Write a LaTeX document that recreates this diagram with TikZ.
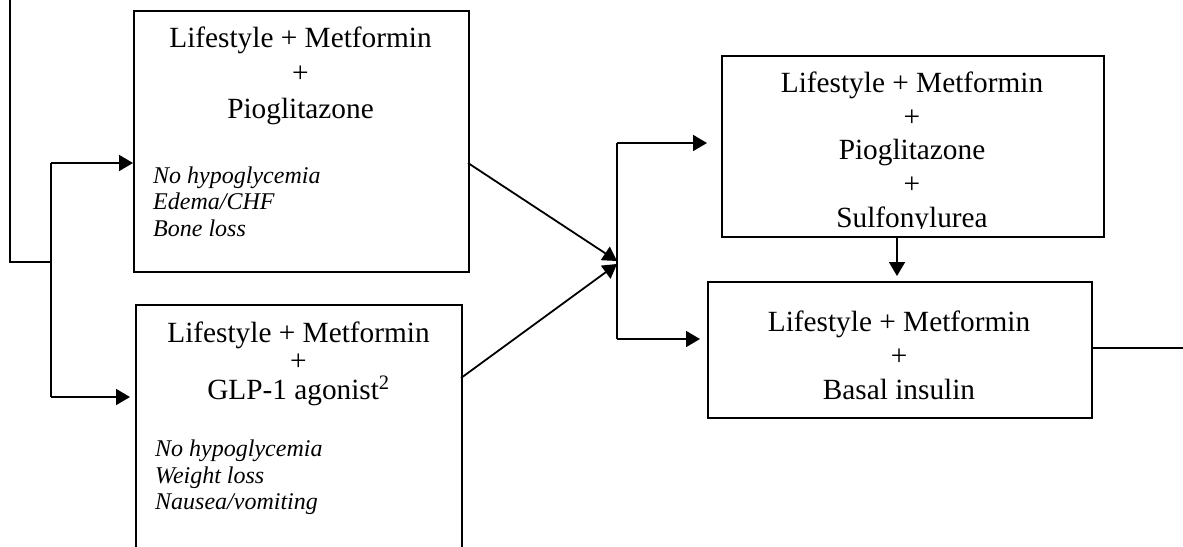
\documentclass[tikz,border=0pt]{standalone}
\usepackage{fontspec}
\setmainfont{Liberation Serif}
\usetikzlibrary{arrows.meta}
\begin{document}
\begin{tikzpicture}[x=1pt,y=-1pt,
  box/.style={draw,line width=1.8pt,anchor=north west,inner sep=0pt},
  conn/.style={line width=1.8pt},
  arr/.style={conn,-{Triangle[length=14pt,width=16pt]}},
  big/.style={font=\fontsize{29.3}{35}\selectfont,anchor=base,inner sep=0pt},
  small/.style={font=\fontsize{24}{27}\selectfont\itshape,anchor=base west,inner sep=0pt}]
\useasboundingbox (0,0) rectangle (1183,546);
\begin{scope}
\clip (0,0) rectangle (1183,546);
% boxes
\node[box,minimum width=335pt,minimum height=261pt] (A) at (133,10) {};
\node[box,minimum width=326pt,minimum height=300pt] (B) at (135,304) {};
\node[box,minimum width=382pt,minimum height=181pt] (C) at (721,55) {};
\node[box,minimum width=384pt,minimum height=136pt] (D) at (707,281) {};
% box A text
\node[big] (a1) at (300.5,47) {Lifestyle + Metformin};
\node[big] (a2) at (300.5,82.5) {+};
\node[big] (a3) at (300.5,118) {Pioglitazone};
\node[small] (a4) at (153,183) {No hypoglycemia};
\node[small] (a5) at (153,209.5) {Edema/CHF};
\node[small] (a6) at (153,236) {Bone loss};
% box B text
\node[big] (b1) at (298.5,342) {Lifestyle + Metformin};
\node[big] (b2) at (298.5,370.5) {+};
\node[big] (b3) at (298.5,399) {GLP-1 agonist\textsuperscript{2}};
\node[small] (b4) at (155,456) {No hypoglycemia};
\node[small] (b5) at (155,483) {Weight loss};
\node[small] (b6) at (155,509.5) {Nausea/vomiting};
% box C text (clipped at the bottom)
\begin{scope}
\clip (721,55) rectangle (1103,228);
\node[big] (c1) at (912,92.5) {Lifestyle + Metformin};
\node[big] (c2) at (912,126) {+};
\node[big] (c3) at (912,159.5) {Pioglitazone};
\node[big] (c4) at (912,193) {+};
\node[big] (c5) at (912,227) {Sulfonylurea};
\end{scope}
% box D text
\node[big] (d1) at (899,331) {Lifestyle + Metformin};
\node[big] (d2) at (899,365) {+};
\node[big] (d3) at (899,399) {Basal insulin};
% connector coordinates
\coordinate (top) at (10,0);
\coordinate (jl) at (51,262);
\coordinate (sA) at (51,163);
\coordinate (sB) at (51,397);
\coordinate (oA) at (468,163);
\coordinate (oB) at (461,378);
\coordinate (m1) at (617,261);
\coordinate (m2) at (617,264);
\coordinate (mc) at (617,143);
\coordinate (md) at (617,339);
\coordinate (cs) at (897,236);
\coordinate (dt) at (897,281);
\coordinate (de) at (1091,348);
\coordinate (re) at (1183,348);
% connectors
\draw[conn] (top) |- (jl);
\draw[conn] (sA) -- (sB);
\draw[arr] (sA) -- (sA -| A.west);
\draw[arr,shorten >=5pt] (sB) -- (sB -| B.west);
\draw[arr] (oA) -- (m1);
\draw[arr] (oB) -- (m2);
\draw[conn] (mc) -- (md);
\draw[arr,shorten >=14pt] (mc) -- (mc -| C.west);
\draw[arr,shorten >=7pt] (md) -- (md -| D.west);
\draw[arr,shorten >=5pt] (cs) -- (dt);
\draw[conn] (de) -- (re);
\end{scope}
\end{tikzpicture}
\end{document}
